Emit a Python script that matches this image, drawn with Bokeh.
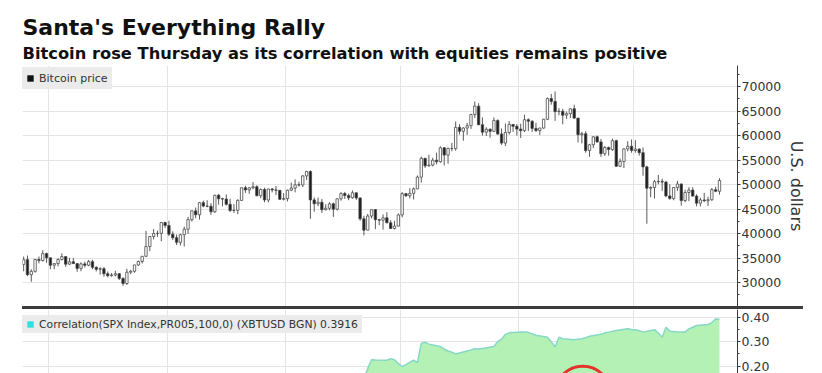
import pandas as pd
from bokeh.plotting import figure
from bokeh.layouts import column
from bokeh.models import (Title, Legend, LegendItem, FixedTicker, SingleIntervalTicker,
                          NumeralTickFormatter, Range1d, Div, ColumnDataSource)
from bokeh.embed import file_html
from bokeh.resources import INLINE

# ---------------- texts ----------------
title_text = "Santa's Everything Rally"
subtitle_text = "Bitcoin rose Thursday as its correlation with equities remains positive"
price_label = "Bitcoin price"
corr_label = "Correlation(SPX Index,PR005,100,0) (XBTUSD BGN) 0.3916"
price_axis_label = "U.S. dollars"

# ---------------- daily Bitcoin OHLC (2021-06-24 .. 2021-12-23) ----------------
first_day = "2021-06-24"
first_open = 33690
closes = [
    34660, 31590, 32280, 34700, 34490, 35900, 35040,
    33540, 33860, 34690, 35290, 33750, 34230, 33860, 32880, 33800, 33520, 34260, 33100, 32700, 32820, 31780,
    31400, 31530, 31780, 30840, 29790, 32110, 32290, 33580, 34290, 35350, 37340, 39400, 40010, 40030, 42240, 41630,
    39870, 39150, 38200, 39750, 40870, 42830, 44620, 43830, 46290, 45600, 45560, 44430, 47810, 47100, 47040,
    45960, 44690, 44740, 46760, 49340, 48900, 49320, 49550, 47710, 48990, 46850, 49070, 48900, 48810, 46990, 47130,
    48850, 49280, 49940, 49920, 51760, 52660, 46860, 46070, 46370, 44850, 45160, 46060, 44960, 47090, 48150,
    47750, 47300, 48310, 47260, 43000, 40690, 43570, 44880, 42810, 42720, 43210, 42190, 41030, 41520, 43790,
    48140, 47710, 48200, 49110, 51510, 55360, 53810, 53970, 54970, 54660, 57490, 56010, 57370, 57350, 61670,
    60880, 61530, 62010, 64280, 66000, 62210, 60690, 61290, 60860, 63080, 60330, 58460, 60620, 62270, 61880, 61320,
    61000, 63230, 62940, 61450, 61010, 61530, 63330, 67550, 66970, 64880, 64950, 64160, 64470, 65470, 63560,
    60160, 60370, 56940, 58120, 59750, 58700, 56300, 57570, 57150, 58960, 53730, 54720, 57270, 57810, 56950,
    57230, 56510, 53600, 49250, 49400, 50580, 50640, 50500, 47670, 47140, 49390, 50100, 46720, 48380, 48870,
    47640, 46200, 46850, 46680, 46900, 48950, 48620, 50820,
]
highs = [
    35300, 35500, 32700, 34750, 35300, 36600, 36100,
    35040, 33930, 34950, 35950, 35290, 35050, 35000, 33900, 34100, 34250, 34600, 34650, 33300, 33100, 33150,
    32250, 31950, 32400, 31900, 31060, 32800, 32580, 33600, 34460, 35390, 40550, 39500, 40900, 40600, 42300, 42400,
    42600, 40440, 39780, 39950, 41400, 43400, 44700, 45300, 46450, 46700, 46780, 46200, 47900, 48100, 47300,
    48000, 47100, 46000, 47000, 49350, 49750, 49500, 50500, 49850, 49200, 49350, 49150, 49300, 49700, 48900, 48250,
    48950, 50400, 51050, 50550, 51900, 52800, 52900, 47350, 47350, 47050, 45950, 46400, 46300, 47200, 48450,
    48500, 48150, 48800, 48350, 47350, 43600, 44000, 44950, 45000, 42950, 43900, 44350, 42750, 42600, 44100,
    48450, 48300, 49250, 49400, 51850, 55700, 55300, 56100, 55450, 56500, 57800, 57650, 57550, 58500, 62850,
    62300, 61700, 62600, 64450, 66950, 66600, 63700, 61700, 61450, 63700, 63300, 61450, 62450, 62950, 62300, 62350,
    62400, 64250, 63500, 63100, 62600, 61600, 63400, 67780, 68500, 69000, 65600, 65450, 64900, 65500, 66300,
    63600, 60750, 60900, 58300, 59850, 60000, 59300, 57850, 57750, 59350, 59150, 55300, 57400, 58850, 59200,
    59050, 57400, 57550, 53850, 49650, 50950, 51950, 51200, 50750, 50050, 49500, 50750, 50200, 48950, 49450,
    49450, 48000, 47300, 48300, 47500, 49300, 49550, 51300,
]
lows = [
    32300, 31300, 30150, 32000, 33900, 34250, 34000,
    32700, 32700, 33300, 34500, 33200, 33550, 33800, 32200, 32300, 33050, 33330, 32700, 32250, 31600, 31200,
    31050, 31180, 31250, 30500, 29300, 29500, 31700, 32000, 33400, 33850, 35200, 36400, 38800, 39300, 38400, 41100,
    39450, 38700, 37650, 37550, 37350, 39900, 42460, 43100, 42850, 45350, 45350, 43800, 44200, 45900, 45550,
    45700, 44400, 44200, 43950, 46630, 48300, 48100, 49050, 47600, 47200, 46400, 46350, 48400, 47850, 46900, 46750,
    46550, 48650, 48400, 49550, 49500, 50950, 43000, 44450, 45550, 44200, 44750, 44750, 43400, 44700, 46700,
    47050, 46800, 47100, 46850, 42600, 39600, 40650, 43100, 40900, 41700, 40800, 42100, 40950, 40800, 41450,
    43300, 47450, 47150, 46950, 49050, 50400, 53400, 53700, 53700, 54100, 54450, 53900, 54250, 56800, 56900,
    60200, 58950, 60150, 61350, 63550, 62100, 60000, 59900, 59550, 60700, 60100, 58100, 57850, 60200, 60750, 60000,
    59500, 60700, 60950, 60750, 60750, 60100, 61400, 63150, 66300, 63000, 64150, 62300, 63400, 63600, 63400,
    58600, 58400, 56500, 55650, 57450, 58550, 55650, 55850, 55900, 56850, 53600, 53650, 53350, 56750, 56500,
    56500, 55900, 51800, 42000, 47400, 47150, 50050, 48700, 47400, 46900, 46800, 48700, 45700, 46400, 46600,
    47550, 45550, 45550, 46450, 45600, 46650, 48450, 47950,
]

# ---------------- 100-day correlation with SPX ----------------
corr_dates = [
    "2021-09-21", "2021-09-22", "2021-09-23", "2021-09-24", "2021-09-27", "2021-09-28", "2021-09-29",
    "2021-09-30", "2021-10-01", "2021-10-04", "2021-10-05", "2021-10-06", "2021-10-07", "2021-10-08",
    "2021-10-11", "2021-10-12", "2021-10-13", "2021-10-14", "2021-10-15", "2021-10-18", "2021-10-19",
    "2021-10-20", "2021-10-21", "2021-10-22", "2021-10-25", "2021-10-26", "2021-10-27", "2021-10-28",
    "2021-10-29", "2021-11-01", "2021-11-02", "2021-11-03", "2021-11-04", "2021-11-05", "2021-11-08",
    "2021-11-09", "2021-11-10", "2021-11-11", "2021-11-12", "2021-11-15", "2021-11-16", "2021-11-17",
    "2021-11-18", "2021-11-19", "2021-11-22", "2021-11-23", "2021-11-24", "2021-11-26", "2021-11-29",
    "2021-11-30", "2021-12-01", "2021-12-02", "2021-12-03", "2021-12-06", "2021-12-07", "2021-12-08",
    "2021-12-09", "2021-12-10", "2021-12-13", "2021-12-14", "2021-12-15", "2021-12-16", "2021-12-17",
    "2021-12-20", "2021-12-21", "2021-12-22", "2021-12-23",
]
corr_values = [
    0.150, 0.190, 0.226, 0.225, 0.224, 0.230, 0.226,
    0.210, 0.198, 0.225, 0.214, 0.293, 0.298, 0.290,
    0.280, 0.270, 0.262, 0.257, 0.250, 0.262, 0.266,
    0.271, 0.270, 0.272, 0.280, 0.300, 0.310, 0.330,
    0.336, 0.339, 0.340, 0.338, 0.332, 0.326, 0.318,
    0.300, 0.278, 0.318, 0.312, 0.308, 0.310, 0.312,
    0.316, 0.322, 0.330, 0.336, 0.339, 0.346, 0.353,
    0.350, 0.349, 0.345, 0.339, 0.349, 0.335, 0.318,
    0.359, 0.343, 0.339, 0.340, 0.352, 0.359, 0.366,
    0.370, 0.378, 0.393, 0.3916,
]

# month boundaries used for the vertical grid lines
month_starts = ["2021-07-01", "2021-08-01", "2021-09-01", "2021-10-01", "2021-11-01", "2021-12-01"]
view_start, view_end = "2021-06-24 04:50", "2021-12-28 05:00"
price_view = (25100, 74300)
corr_view = (0.1700, 0.4314)
# hand-drawn highlight (red ellipse partly visible at the bottom)
highlight_date, highlight_value = "2021-11-17 18:00", 0.09

# ---------------- derived ----------------
half_day = pd.Timedelta(hours=12)
dates = pd.date_range(first_day, periods=len(closes), freq="D") + half_day
opens = [first_open] + closes[:-1]
body_top = [max(o, c) for o, c in zip(opens, closes)]
body_bot = [min(o, c) for o, c in zip(opens, closes)]
body_fill = ["#ffffff" if c >= o else "#1c1c1c" for o, c in zip(opens, closes)]
src = ColumnDataSource(dict(x=dates, h=highs, l=lows, top=body_top, bottom=body_bot, fill=body_fill))
cx = pd.to_datetime(corr_dates) + half_day
ms = lambda s: pd.Timestamp(s).value / 1e6
grid_ticks = [ms(d) for d in month_starts]
day_ms = 86400000
nan = float("nan")

FONT = "DejaVu Sans"
GRID = "#e4e4e4"
AXIS = "#3a3a3a"

x_range = Range1d(ms(view_start), ms(view_end))


def style_axis(ax):
    ax.major_label_text_font = FONT
    ax.major_label_text_font_size = "12.5px"
    ax.major_label_text_color = "#333333"
    ax.major_label_standoff = 1
    ax.axis_line_color = AXIS
    ax.major_tick_line_color = AXIS
    ax.minor_tick_line_color = AXIS
    ax.major_tick_in = 0
    ax.major_tick_out = 3
    ax.minor_tick_in = 0
    ax.minor_tick_out = 2


def legend_box(renderer, label, loc, label_width, font_size, row_height):
    return Legend(items=[LegendItem(label=label, renderers=[renderer])],
                  location=loc, margin=0, padding=0, spacing=0,
                  background_fill_color="#ebebeb", background_fill_alpha=1, border_line_color=None,
                  label_text_font=FONT, label_text_font_size=font_size, label_text_color="#333333",
                  glyph_width=16, glyph_height=16, label_height=row_height,
                  label_width=label_width, label_standoff=1)


# ---------------- price panel ----------------
p = figure(width=814, height=306, x_axis_type="datetime", y_axis_location="right",
           x_range=x_range, y_range=Range1d(*price_view),
           output_backend="svg", toolbar_location=None,
           min_border_left=22, min_border_right=77, min_border_top=65, min_border_bottom=0)
p.outline_line_color = None
p.background_fill_color = "white"
p.xaxis.visible = False
p.xgrid.ticker = FixedTicker(ticks=grid_ticks)
p.xgrid.grid_line_color = GRID
p.ygrid.grid_line_color = GRID

p.title.text = title_text
p.title.text_font = FONT
p.title.text_font_size = "22px"
p.title.text_font_style = "bold"
p.title.text_color = "#111111"
p.title.align = "left"
p.title.standoff = 0
p.add_layout(Title(text=subtitle_text, text_font=FONT, text_font_size="16.3px",
                   text_font_style="bold", text_color="#111111", align="left", standoff=5), "above")

yax = p.yaxis[0]
yax.ticker = SingleIntervalTicker(interval=5000, num_minor_ticks=2)
yax.formatter = NumeralTickFormatter(format="0")
style_axis(yax)
yax.axis_label = price_axis_label
yax.axis_label_text_font = FONT
yax.axis_label_text_font_size = "16px"
yax.axis_label_text_font_style = "normal"
yax.axis_label_text_color = "#333333"
yax.axis_label_standoff = 3

p.segment(x0="x", y0="l", x1="x", y1="h", source=src, line_color="#5a5a5a", line_width=1)
p.vbar(x="x", top="top", bottom="bottom", width=0.62 * day_ms, source=src,
       fill_color="fill", line_color="#4a4a4a", line_width=0.8)

leg_r1 = p.scatter(x=[nan], y=[nan], marker="square", size=6, fill_color="#111111", line_color=None)
p.add_layout(legend_box(leg_r1, price_label, (0, 217), 73, "11px", 22))

# ---------------- separator ----------------
sep = Div(text="", width=781, height=3, margin=(0, 0, 0, 22),
          styles={"background-color": "#3c3c3c"})

# ---------------- correlation panel ----------------
q = figure(width=814, height=64, x_axis_type="datetime", y_axis_location="right",
           x_range=x_range, y_range=Range1d(*corr_view),
           output_backend="svg", toolbar_location=None,
           min_border_left=22, min_border_right=77, min_border_top=0, min_border_bottom=0)
q.outline_line_color = None
q.xaxis.visible = False
q.xgrid.ticker = FixedTicker(ticks=grid_ticks)
q.xgrid.grid_line_color = GRID
q.ygrid.grid_line_color = GRID

qax = q.yaxis[0]
qax.ticker = SingleIntervalTicker(interval=0.1, num_minor_ticks=2)
qax.formatter = NumeralTickFormatter(format="0.00")
style_axis(qax)

q.varea(x=cx, y1=0, y2=corr_values, fill_color="#b4f1b4")
q.line(x=cx, y=corr_values, line_color="#86d8c6", line_width=1.5)
q.ellipse(x=[ms(highlight_date)], y=[highlight_value], width=14.4 * day_ms, height=0.22,
          fill_color=None, line_color="#e5322b", line_width=3)

leg_r2 = q.scatter(x=[nan], y=[nan], marker="square", size=6, fill_color="#33dede", line_color=None)
q.add_layout(legend_box(leg_r2, corr_label, (0, 40), 323, "10.8px", 18))

layout = column(p, sep, q, spacing=0)
open("out.html", "w").write(file_html(layout, INLINE))
